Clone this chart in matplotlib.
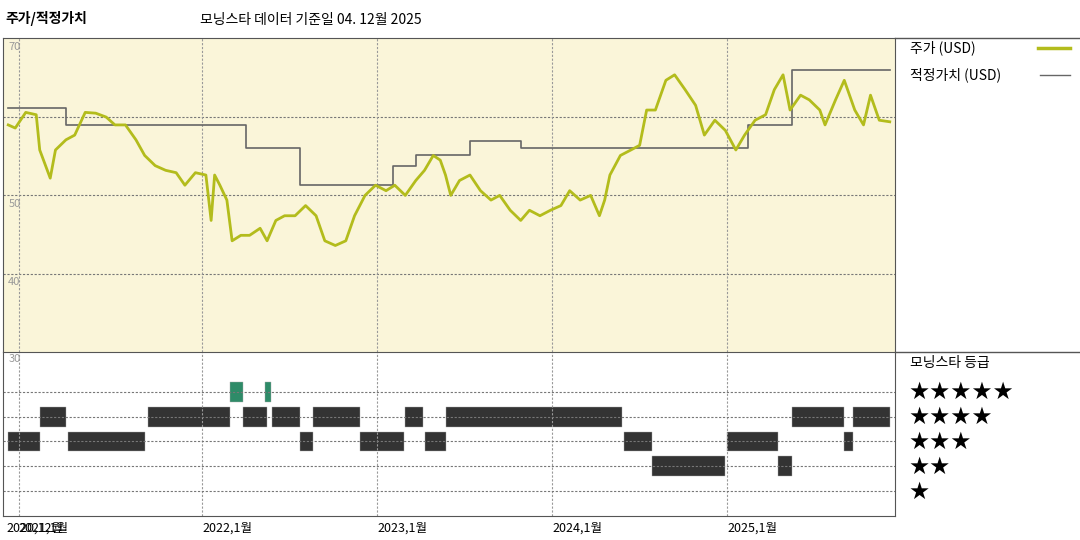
import numpy as np
import matplotlib
matplotlib.use('Agg')
import matplotlib.pyplot as plt

plt.rcParams['font.family'] = ['Noto Sans CJK KR', 'DejaVu Sans']

# price (decimal year, USD)
price_t = [2020.89, 2020.93, 2020.99, 2021.05, 2021.07, 2021.13, 2021.16, 2021.22, 2021.27, 2021.33,
           2021.39, 2021.45, 2021.50, 2021.56, 2021.62, 2021.67, 2021.73, 2021.79, 2021.85, 2021.90,
           2021.96, 2022.02, 2022.05, 2022.07, 2022.10, 2022.14, 2022.17, 2022.22, 2022.27, 2022.33,
           2022.37, 2022.42, 2022.47, 2022.53, 2022.59, 2022.65, 2022.70, 2022.76, 2022.82, 2022.87,
           2022.93, 2022.99, 2023.05, 2023.10, 2023.16, 2023.22, 2023.27, 2023.32, 2023.36, 2023.39,
           2023.42, 2023.47, 2023.53, 2023.59, 2023.65, 2023.70, 2023.76, 2023.82, 2023.87, 2023.93,
           2023.99, 2024.05, 2024.10, 2024.16, 2024.22, 2024.27, 2024.30, 2024.33, 2024.39, 2024.45,
           2024.50, 2024.54, 2024.59, 2024.65, 2024.70, 2024.76, 2024.82, 2024.87, 2024.93, 2024.99,
           2025.05, 2025.10, 2025.16, 2025.22, 2025.27, 2025.32, 2025.36, 2025.42, 2025.47, 2025.53,
           2025.56, 2025.62, 2025.67, 2025.73, 2025.78, 2025.82, 2025.87, 2025.93]
price_v = [59.0, 58.6, 60.6, 60.3, 55.8, 52.2, 55.8, 57.1, 57.7, 60.6,
           60.5, 60.0, 59.0, 59.0, 57.1, 55.1, 53.8, 53.2, 52.9, 51.3,
           52.9, 52.6, 46.8, 52.6, 51.3, 49.4, 44.2, 44.9, 44.9, 45.8,
           44.2, 46.8, 47.4, 47.4, 48.7, 47.4, 44.2, 43.6, 44.2, 47.4,
           50.0, 51.3, 50.6, 51.3, 50.0, 51.9, 53.2, 55.1, 54.5, 52.6,
           50.0, 51.9, 52.6, 50.6, 49.4, 50.0, 48.1, 46.8, 48.1, 47.4,
           48.1, 48.7, 50.6, 49.4, 50.0, 47.4, 49.4, 52.6, 55.1, 55.8,
           56.4, 60.9, 60.9, 64.7, 65.4, 63.5, 61.5, 57.7, 59.6, 58.3,
           55.8, 57.7, 59.6, 60.3, 63.5, 65.4, 60.9, 62.8, 62.2, 60.9,
           59.0, 62.2, 64.7, 60.9, 59.0, 62.8, 59.6, 59.4]

# fair value steps
fv_t = [2020.89, 2021.22, 2022.25, 2022.56, 2023.09, 2023.22, 2023.53, 2023.82, 2025.12, 2025.37, 2025.93]
fv_v = [61.2, 59.0, 56.0, 51.3, 53.8, 55.1, 57.0, 56.0, 59.0, 66.0, 66.0]

# star rating periods: (start, end, stars)
rating_periods = [
    (2020.89, 2021.07, 3), (2021.07, 2021.22, 4), (2021.23, 2021.67, 3), (2021.69, 2022.16, 4),
    (2022.16, 2022.23, 5), (2022.23, 2022.37, 4), (2022.36, 2022.39, 5), (2022.40, 2022.56, 4),
    (2022.56, 2022.63, 3), (2022.63, 2022.90, 4), (2022.90, 2023.15, 3), (2023.16, 2023.26, 4),
    (2023.27, 2023.39, 3), (2023.39, 2024.40, 4), (2024.41, 2024.57, 3), (2024.57, 2024.99, 2),
    (2025.00, 2025.29, 3), (2025.29, 2025.37, 2), (2025.37, 2025.67, 4), (2025.67, 2025.72, 3),
    (2025.72, 2025.93, 4),
]

grid_x = [2020.95, 2022, 2023, 2024, 2025]
x_labels = [(2020.88, '2020,12월'), (2020.95, '2021,1월'), (2022, '2022,1월'),
            (2023, '2023,1월'), (2024, '2024,1월'), (2025, '2025,1월')]

x0, x1 = 2020.86, 2025.96
fig = plt.figure(figsize=(10.8, 5.4), dpi=100)
W, H = 1080, 540
ax = fig.add_axes([3 / W, 1 - 352 / H, 892 / W, 314 / H])
axr = fig.add_axes([3 / W, 1 - 516 / H, 892 / W, 164 / H])

ax.set_facecolor('#faf5d9')
ax.set_xlim(x0, x1)
ax.set_ylim(30, 70.1)
for yv in [40, 50, 60]:
    ax.axhline(yv, color='#777777', ls=(0, (2, 1.5)), lw=0.8)
for xv in grid_x:
    ax.axvline(xv, color='#999999', ls=(0, (2, 1.5)), lw=0.8)
    axr.axvline(xv, color='#999999', ls=(0, (2, 1.5)), lw=0.8)
ax.step(fv_t, fv_v, where='post', color='#666666', lw=1.2)
ax.plot(price_t, price_v, color='#b3bc1c', lw=2.0)
for yv in [70, 50, 40]:
    ax.text(x0 + 0.03, yv - 0.4, str(yv), fontsize=8, color='#999999', va='top')
ax.set_xticks([]); ax.set_yticks([])
for s in ['left', 'right', 'top']:
    ax.spines[s].set_color('#555555')
ax.spines['bottom'].set_visible(False)

axr.set_xlim(x0, x1)
axr.set_ylim(0, 6.6)
for r in range(1, 6):
    axr.axhline(r, color='#777777', ls=(0, (2, 1.5)), lw=0.8)
for s, e, r in rating_periods:
    c = '#2e8b68' if r == 5 else '#333333'
    axr.broken_barh([(s, e - s)], (r - 0.4, 0.8), facecolor=c, edgecolor='#aaaaaa', lw=0.3)
axr.text(x0 + 0.03, 6.5, '30', fontsize=8, color='#999999', va='top')
axr.set_xticks([]); axr.set_yticks([])
for s in ['left', 'right', 'bottom', 'top']:
    axr.spines[s].set_color('#555555')

# x labels (the first two overlap, as in the source)
for xv, lab in x_labels:
    fig.text((3 + (xv - x0) / (x1 - x0) * 892) / W, 1 - 522 / H, lab, fontsize=9, va='top')

# titles
fig.text(5 / W, 1 - 18 / H, '주가/적정가치', fontsize=10, fontweight='bold', va='center')
fig.text(200 / W, 1 - 20 / H, '모닝스타 데이터 기준일 04. 12월 2025', fontsize=10, va='center')

# right panel
fig.add_artist(plt.Line2D([895 / W, 1], [1 - 38 / H] * 2, color='#555555', lw=1))
fig.add_artist(plt.Line2D([895 / W, 1], [1 - 352 / H] * 2, color='#555555', lw=1))
fig.text(910 / W, 1 - 48 / H, '주가 (USD)', fontsize=10, va='center')
fig.add_artist(plt.Line2D([1038 / W, 1070 / W], [1 - 48 / H] * 2, color='#b3bc1c', lw=2.5))
fig.text(910 / W, 1 - 75 / H, '적정가치 (USD)', fontsize=10, va='center')
fig.add_artist(plt.Line2D([1040 / W, 1070 / W], [1 - 75 / H] * 2, color='#666666', lw=1))
fig.text(910 / W, 1 - 363 / H, '모닝스타 등급', fontsize=10, va='center')
for i, n in enumerate([5, 4, 3, 2, 1]):
    fig.text(908 / W, 1 - (392 + i * 25) / H, '★' * n, fontsize=17, va='center', family=['DejaVu Sans'])

fig.savefig('out.png', dpi=100)
